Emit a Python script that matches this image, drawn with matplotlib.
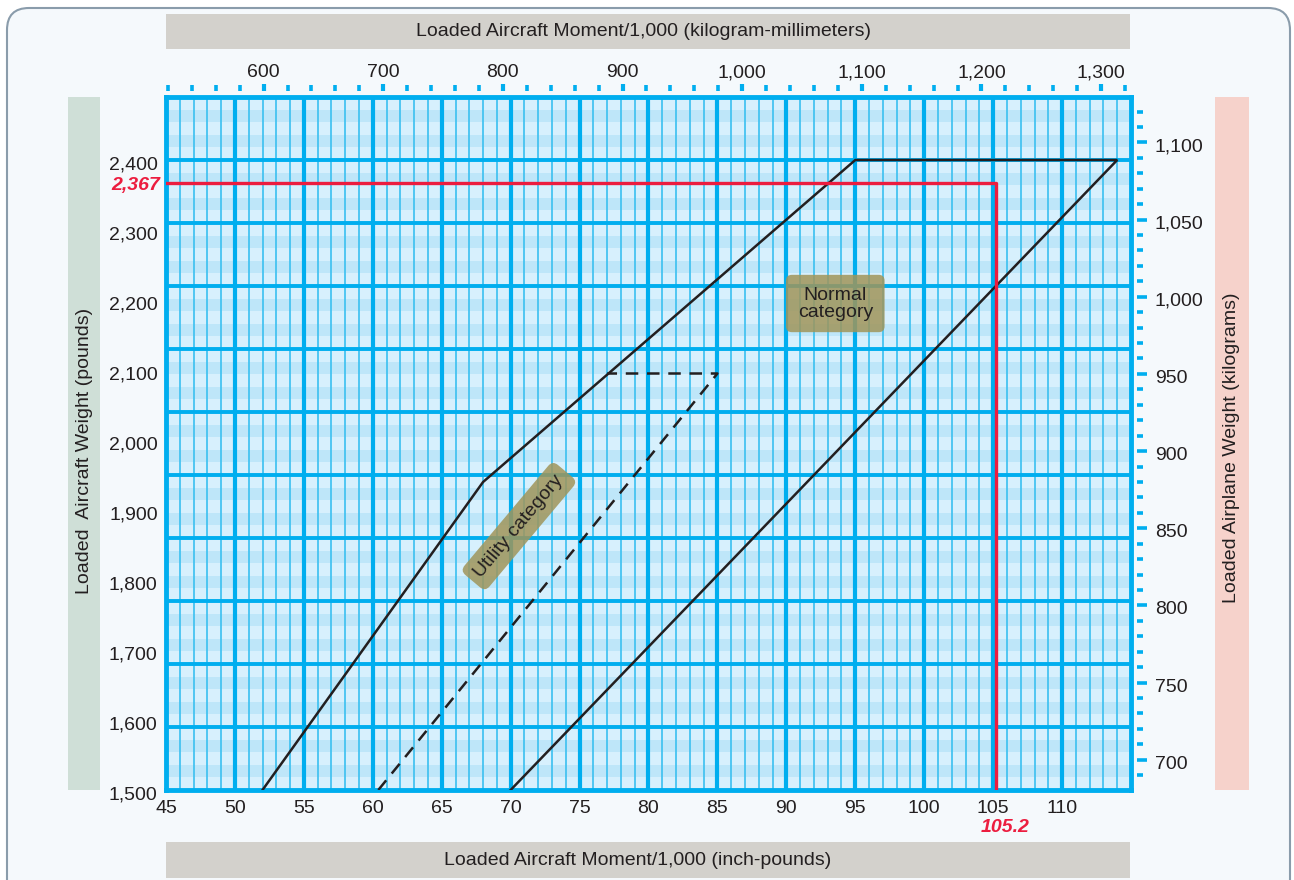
import numpy as np
import matplotlib
matplotlib.use("Agg")
import matplotlib.pyplot as plt
import matplotlib.transforms as mtransforms
from matplotlib.patches import FancyBboxPatch, Rectangle

plt.rcParams['font.family'] = ['Liberation Sans', 'DejaVu Sans']

# envelope data (moment/1000 in-lb, weight lb)
normal_moment = [52, 68, 95, 114, 70]
normal_weight = [1500, 1940, 2400, 2400, 1500]
utility_moment = [60.4, 85, 77]
utility_weight = [1500, 2095, 2095]

# worked example
example_moment = 105.2
example_weight = 2367

moment_ticks = list(range(45, 111, 5))
weight_ticks = list(range(1500, 2401, 100))
kgmm_ticks = list(range(600, 1301, 100))
kg_ticks = list(range(700, 1101, 50))

x_min, x_max = 45, 115
y_min, y_max = 1500, 2490

BLUE = '#00aeef'
THIN = '#45c3f1'
TXT = '#231f20'
RED = '#ec1d3f'
FS = 14

W, H = 12.94, 8.80
fig = plt.figure(figsize=(W, H), dpi=100, facecolor='white')

# outer frame
fig.patches.append(FancyBboxPatch((0.07, -0.5), 12.83, 9.22,
                                  boxstyle="round,pad=0,rounding_size=0.22",
                                  transform=fig.dpi_scale_trans, facecolor='#f5f9fc',
                                  edgecolor='#8a9cab', lw=1.5, zorder=-5))


def px_rect(x0, y0, x1, y1, color):
    # rectangle given in pixel coords from top-left
    fig.patches.append(Rectangle((x0 / 100, H - y1 / 100), (x1 - x0) / 100, (y1 - y0) / 100,
                                 transform=fig.dpi_scale_trans, facecolor=color,
                                 edgecolor='none', zorder=-4))


px_rect(166, 14, 1130, 49, '#d3d1cc')
px_rect(166, 842, 1130, 878, '#d3d1cc')
px_rect(68, 97, 100, 790, '#cfdfd7')
px_rect(1215, 97, 1249, 790, '#f6d2cb')

fig.text(643 / 1294, 1 - 32 / 880, 'Loaded Aircraft Moment/1,000 (kilogram-millimeters)',
         ha='center', va='center', fontsize=FS, color=TXT)
fig.text(638 / 1294, 1 - 860 / 880, 'Loaded Aircraft Moment/1,000 (inch-pounds)',
         ha='center', va='center', fontsize=FS, color=TXT)
fig.text(85 / 1294, 1 - 451 / 880, 'Loaded  Aircraft Weight (pounds)', rotation=90,
         ha='center', va='center', fontsize=FS, color=TXT)
fig.text(1232 / 1294, 1 - 448 / 880, 'Loaded Airplane Weight (kilograms)', rotation=90,
         ha='center', va='center', fontsize=FS, color=TXT)

ax = fig.add_axes([166 / 1294, (880 - 790) / 880, (1131 - 166) / 1294, (790 - 97) / 880])
ax.set_facecolor('#d7f0fd')
ax.set_xlim(x_min, x_max)
ax.set_ylim(y_min, y_max)

# graph-paper bands and lines
major_h = np.arange(y_min, y_max + 1, 90)
for y0 in major_h[:-1]:
    ax.axhspan(y0 + 18, y0 + 36, color='#bee6f9', lw=0, zorder=0)
    ax.axhspan(y0 + 54, y0 + 72, color='#bee6f9', lw=0, zorder=0)
for xv in range(x_min + 1, x_max):
    if xv % 5 == 0:
        ax.axvline(xv, color=BLUE, lw=3.0, zorder=1)
    else:
        ax.axvline(xv, color=THIN, lw=1.3, zorder=1)
for yv in major_h[1:-1]:
    ax.axhline(yv, color=BLUE, lw=2.8, zorder=1)

for sp in ax.spines.values():
    sp.set_color(BLUE)
    sp.set_linewidth(3.5)

# envelopes
ax.plot(normal_moment, normal_weight, color=TXT, lw=1.8, zorder=3, solid_joinstyle='miter')
ax.plot(utility_moment, utility_weight, color=TXT, lw=1.8, zorder=3, dashes=(5, 3.5))

# worked example
ax.plot([x_min, example_moment, example_moment], [example_weight, example_weight, y_min],
        color=RED, lw=2.4, zorder=3)

ax.set_xticks(moment_ticks)
ax.set_xticklabels([str(v) for v in moment_ticks])
ax.set_yticks(weight_ticks)
ax.set_yticklabels([f'{v:,}' for v in weight_ticks])
ax.tick_params(axis='x', length=0, pad=7, labelsize=FS, labelcolor=TXT)
ax.tick_params(axis='y', length=0, pad=6, labelsize=FS, labelcolor=TXT)

# nudge the weight labels down a couple of pixels
nudge = mtransforms.ScaledTranslation(0, -2.5 / 100, fig.dpi_scale_trans)
for lbl in ax.get_yticklabels():
    lbl.set_transform(lbl.get_transform() + nudge)

ax.annotate(f'{example_weight:,}', xy=(0, example_weight), xycoords=('axes fraction', 'data'),
            xytext=(-4, -1.5), textcoords='offset points', ha='right', va='center',
            fontsize=FS, color=RED, fontweight='bold', fontstyle='italic')
ax.annotate(f'{example_moment}', xy=(example_moment, 0), xycoords=('data', 'axes fraction'),
            xytext=(7, -27), textcoords='offset points', ha='center', va='center',
            fontsize=FS, color=RED, fontweight='bold', fontstyle='italic')

# category labels
ax.text(93.55, 2195, 'Normal\ncategory', ha='center', va='center', fontsize=FS, color=TXT,
        linespacing=1.0, zorder=4,
        bbox=dict(boxstyle='round,pad=0.6,rounding_size=0.3', facecolor='#a0955a',
                  edgecolor='none', alpha=0.85))
ax.text(70.6, 1877, 'Utility category', ha='center', va='center', fontsize=FS, color=TXT,
        rotation=50, rotation_mode='anchor', zorder=4,
        bbox=dict(boxstyle='round,pad=0.4,rounding_size=0.35', facecolor='#a0955a',
                  edgecolor='none', alpha=0.85))

# metric scales
IN_LB_TO_KG_MM = 0.0254 * 0.45359237 * 1000
LB_TO_KG = 0.45359237

top = ax.secondary_xaxis(1.008, functions=(lambda x: x * IN_LB_TO_KG_MM,
                                           lambda x: x / IN_LB_TO_KG_MM))
top.set_xticks(kgmm_ticks)
top.set_xticklabels([f'{v:,}' for v in kgmm_ticks])
top.set_xticks(list(range(520, 1321, 20)), minor=True)
top.spines['top'].set_visible(False)
top.tick_params(which='major', direction='out', length=5, width=3, color=BLUE, pad=2.5,
                labelsize=FS, labelcolor=TXT)
top.tick_params(which='minor', direction='out', length=4, width=2.6, color=BLUE)

right = ax.secondary_yaxis(1.006, functions=(lambda y: y * LB_TO_KG, lambda y: y / LB_TO_KG))
right.set_yticks(kg_ticks)
right.set_yticklabels([f'{v:,}' for v in kg_ticks])
right.set_yticks(list(range(680, 1131, 10)), minor=True)
right.spines['right'].set_visible(False)
right.tick_params(which='major', direction='out', length=7, width=2.6, color=BLUE, pad=6,
                  labelsize=FS, labelcolor=TXT)
right.tick_params(which='minor', direction='out', length=4.5, width=2.6, color=BLUE)
for lbl in right.get_yticklabels():
    lbl.set_transform(lbl.get_transform() + nudge)

fig.savefig('out.png', dpi=100, facecolor='white')
